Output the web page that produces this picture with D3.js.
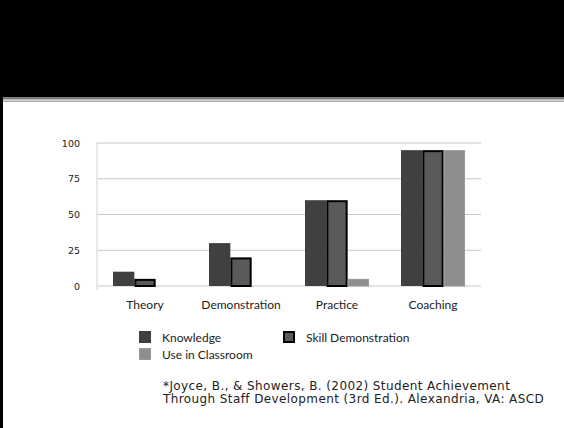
<!DOCTYPE html>
<html>
<head>
<meta charset="utf-8">
<script src="https://cdn.jsdelivr.net/npm/d3@7"></script>
<style>
  html, body { margin: 0; padding: 0; background: #fff; }
  svg { display: block; }
</style>
</head>
<body>
<div id="chart"></div>
<script>
const categories = ['Theory', 'Demonstration', 'Practice', 'Coaching']
const seriesNames = ['Knowledge', 'Skill Demonstration', 'Use in Classroom']
const knowledge = [10, 30, 60, 95]
const skillDemo = [5, 20, 60, 95]
const useInClass = [0, 0, 5, 95]
const yTicks = [0, 25, 50, 75, 100]
const citation = [
  '*Joyce, B., & Showers, B. (2002) Student Achievement',
  'Through Staff Development (3rd Ed.). Alexandria, VA: ASCD'
]

const width = 564, height = 428
const plot = { left: 97, right: 481, top: 143, bottom: 286 }
const fills = ['#404040', '#5a5a5a', '#8e8e8e']
const strokes = ['#404040', '#000', '#999']
const strokeW = [0, 2, 1]

const svg = d3.select('#chart').append('svg')
  .attr('width', width).attr('height', height)

// slide frame
svg.append('rect').attr('x', 0).attr('y', 0).attr('width', width).attr('height', 97.5).attr('fill', '#000')
svg.append('rect').attr('x', 0).attr('y', 98).attr('width', width).attr('height', 1.5).attr('fill', '#7a7a7a')
svg.append('rect').attr('x', 0).attr('y', 100.5).attr('width', width).attr('height', 1.5).attr('fill', '#a8a8a8')
svg.append('rect').attr('x', 0).attr('y', 0).attr('width', 3).attr('height', height).attr('fill', '#000')

const x0 = d3.scaleBand().domain(categories).range([plot.left, plot.right]).paddingInner(1 / 3).paddingOuter(1 / 6)
const x1 = d3.scaleBand().domain(seriesNames).range([0, x0.bandwidth()])
const y = d3.scaleLinear().domain([0, 100]).range([plot.bottom, plot.top])

// gridlines
svg.append('g').selectAll('line').data(yTicks).join('line')
  .attr('x1', plot.left).attr('x2', plot.right)
  .attr('y1', d => y(d)).attr('y2', d => y(d))
  .attr('stroke', '#c8c8c8').attr('stroke-width', 1)
svg.append('line').attr('x1', plot.left).attr('x2', plot.left)
  .attr('y1', plot.top).attr('y2', plot.bottom + 4)
  .attr('stroke', '#d0d0d0')

// y axis labels
const yAxis = d3.axisLeft(y).tickValues(yTicks).tickSize(0).tickPadding(17)
svg.append('g').attr('transform', `translate(${plot.left},0)`).call(yAxis)
  .call(g => g.select('.domain').remove())
  .selectAll('text')
  .attr('font-family', 'DejaVu Sans, Verdana, sans-serif')
  .attr('font-size', 9.5).attr('fill', '#222')

// category labels
const xAxis = d3.axisBottom(x0).tickSize(0).tickPadding(14)
svg.append('g').attr('transform', `translate(0,${plot.bottom})`).call(xAxis)
  .call(g => g.select('.domain').remove())
  .selectAll('text')
  .attr('font-family', 'Lato, Open Sans, sans-serif')
  .attr('font-size', 12).attr('fill', '#222')

// bars
const series = [knowledge, skillDemo, useInClass]
const rows = categories.map((c, i) => ({ cat: c, vals: series.map((s, k) => ({ k: k, v: s[i] })) }))
const groups = svg.append('g').selectAll('g').data(rows).join('g')
  .attr('transform', d => `translate(${x0(d.cat)},0)`)
groups.selectAll('rect').data(d => d.vals.filter(e => e.v > 0)).join('rect')
  .attr('x', d => x1(seriesNames[d.k]) + strokeW[d.k] / 2)
  .attr('y', d => y(d.v) + strokeW[d.k] / 2)
  .attr('width', d => x1.bandwidth() - strokeW[d.k])
  .attr('height', d => y(0) - y(d.v) - strokeW[d.k] / 2)
  .attr('fill', d => fills[d.k])
  .attr('stroke', d => strokes[d.k])
  .attr('stroke-width', d => strokeW[d.k])

// legend
const legendPos = [[139, 331], [283, 331], [139, 348]]
const legend = svg.append('g').selectAll('g').data(seriesNames).join('g')
  .attr('transform', (d, i) => `translate(${legendPos[i][0]},${legendPos[i][1]})`)
legend.append('rect')
  .attr('x', (d, i) => strokeW[i] / 2).attr('y', (d, i) => strokeW[i] / 2)
  .attr('width', (d, i) => 12 - strokeW[i]).attr('height', (d, i) => 12 - strokeW[i])
  .attr('fill', (d, i) => fills[i]).attr('stroke', (d, i) => strokes[i])
  .attr('stroke-width', (d, i) => strokeW[i])
legend.append('text').attr('x', 23).attr('y', 11)
  .attr('font-family', 'Lato, Open Sans, sans-serif')
  .attr('font-size', 12).attr('fill', '#222')
  .text(d => d)

// citation
svg.append('g').selectAll('text').data(citation).join('text')
  .attr('x', 163).attr('y', (d, i) => 390 + i * 13)
  .attr('font-family', 'DejaVu Sans, Verdana, sans-serif')
  .attr('font-size', 12).attr('letter-spacing', 0.4).attr('fill', '#222')
  .text(d => d)
</script>
</body>
</html>
